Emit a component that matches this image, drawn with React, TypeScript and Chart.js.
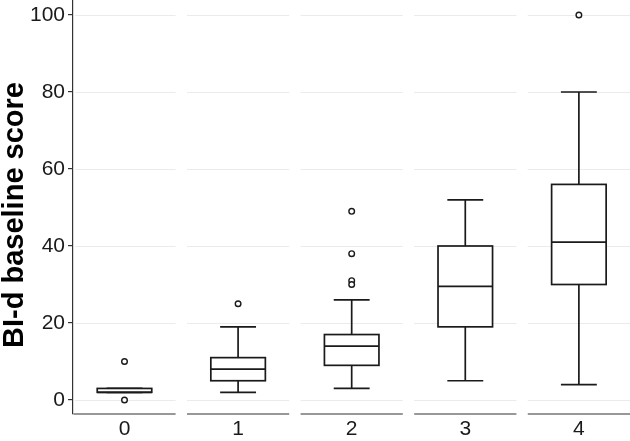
import React, { useEffect, useRef } from "react";
import { Chart, registerables } from "chart.js";

Chart.register(...registerables);

const categories = ["0", "1", "2", "3", "4"];
const whiskerLow = [2, 2, 3, 5, 4];
const q1 = [2, 5, 9, 19, 30];
const median = [2, 8, 14, 29.5, 41];
const q3 = [3, 11, 17, 40, 56];
const whiskerHigh = [3, 19, 26, 52, 80];
const outliers = [[10, 0], [25], [49, 38, 31, 30], [], [100]];
const yTicks = [0, 20, 40, 60, 80, 100];
const yTitle = "BI-d baseline score";

const LINE = "#1a1a1a";

const boxPlugin = {
  id: "boxPlugin",
  beforeDatasetsDraw(chart: any) {
    const { ctx, scales, chartArea } = chart;
    const x = scales.x;
    const y = scales.y;
    const step = x.getPixelForValue(1) - x.getPixelForValue(0);
    ctx.save();
    // segmented grid lines
    ctx.strokeStyle = "#ebebeb";
    ctx.lineWidth = 1;
    categories.forEach((_, i) => {
      const cx = x.getPixelForValue(i);
      yTicks.forEach((t) => {
        const py = Math.round(y.getPixelForValue(t)) + 0.5;
        ctx.beginPath();
        ctx.moveTo(Math.max(cx - step * 0.45, chartArea.left + 2), py);
        ctx.lineTo(cx + step * 0.45, py);
        ctx.stroke();
      });
    });
    // segmented x axis lines
    ctx.strokeStyle = "#333333";
    ctx.lineWidth = 1.2;
    categories.forEach((_, i) => {
      const cx = x.getPixelForValue(i);
      const py = chartArea.bottom;
      ctx.beginPath();
      ctx.moveTo(Math.max(cx - step * 0.45, chartArea.left), py);
      ctx.lineTo(cx + step * 0.45, py);
      ctx.stroke();
    });
    // boxes
    ctx.strokeStyle = LINE;
    ctx.lineWidth = 1.7;
    categories.forEach((_, i) => {
      const cx = x.getPixelForValue(i);
      const bw = step * 0.24;
      const cw = step * 0.158;
      const pLo = y.getPixelForValue(whiskerLow[i]);
      const pHi = y.getPixelForValue(whiskerHigh[i]);
      const p1 = y.getPixelForValue(q1[i]);
      const p3 = y.getPixelForValue(q3[i]);
      const pm = y.getPixelForValue(median[i]);
      ctx.beginPath();
      ctx.moveTo(cx, p1);
      ctx.lineTo(cx, pLo);
      ctx.moveTo(cx - cw, pLo);
      ctx.lineTo(cx + cw, pLo);
      ctx.moveTo(cx, p3);
      ctx.lineTo(cx, pHi);
      ctx.moveTo(cx - cw, pHi);
      ctx.lineTo(cx + cw, pHi);
      ctx.stroke();
      ctx.fillStyle = "#ffffff";
      ctx.fillRect(cx - bw, p3, bw * 2, p1 - p3);
      ctx.strokeRect(cx - bw, p3, bw * 2, p1 - p3);
      ctx.beginPath();
      ctx.moveTo(cx - bw, pm);
      ctx.lineTo(cx + bw, pm);
      ctx.stroke();
    });
    ctx.restore();
  },
  afterDraw(chart: any) {
    const { ctx, chartArea } = chart;
    ctx.save();
    ctx.translate(14.5, (chartArea.top + chartArea.bottom) / 2 + 8);
    ctx.rotate(-Math.PI / 2);
    ctx.textAlign = "center";
    ctx.textBaseline = "middle";
    ctx.fillStyle = "#000000";
    ctx.font = "bold 29px 'Liberation Sans', Arial";
    ctx.fillText(yTitle, 0, 0);
    ctx.restore();
  },
};

export default function App() {
  const ref = useRef<HTMLCanvasElement | null>(null);
  useEffect(() => {
    if (!ref.current) return;
    const outlierPoints: { x: number; y: number }[] = [];
    outliers.forEach((arr, i) => arr.forEach((v) => outlierPoints.push({ x: i, y: v })));
    const chart = new Chart(ref.current, {
      type: "scatter",
      data: {
        datasets: [
          {
            data: outlierPoints,
            pointRadius: 2.8,
            pointBorderWidth: 1.4,
            pointBackgroundColor: "#ffffff",
            pointBorderColor: LINE,
            clip: false,
          },
        ],
      },
      options: {
        animation: false,
        responsive: false,
        layout: { padding: 0, autoPadding: false },
        plugins: { legend: { display: false }, tooltip: { enabled: false } },
        scales: {
          x: {
            type: "linear",
            min: -0.4533,
            max: 4.45,
            afterBuildTicks: (axis: any) => {
              axis.ticks = categories.map((_, i) => ({ value: i }));
            },
            afterFit: (axis: any) => {
              axis.height = 27;
              axis.paddingLeft = 0;
              axis.paddingRight = 0;
              axis.paddingTop = 0;
              axis.paddingBottom = 0;
            },
            grid: { display: false, drawTicks: false },
            border: { display: false },
            ticks: {
              padding: 3,
              color: LINE,
              font: { family: "'Liberation Sans', Arial", size: 21 },
              callback: (v: any) => categories[v as number] ?? "",
            },
          },
          y: {
            min: -3.64,
            max: 103.9,
            afterBuildTicks: (axis: any) => {
              axis.ticks = yTicks.map((v) => ({ value: v }));
            },
            afterFit: (axis: any) => {
              axis.width = 73;
              axis.paddingLeft = 0;
              axis.paddingRight = 0;
              axis.paddingTop = 0;
              axis.paddingBottom = 0;
            },
            grid: {
              drawOnChartArea: false,
              drawTicks: true,
              tickLength: 5,
              color: "#333333",
              lineWidth: 1.2,
            },
            border: { display: true, color: "#333333", width: 1.2 },
            ticks: {
              padding: 3,
              color: LINE,
              font: { family: "'Liberation Sans', Arial", size: 21 },
            },
            title: { display: false },
          },
        },
      },
      plugins: [boxPlugin],
    } as any);
    return () => chart.destroy();
  }, []);
  return (
    <div style={{ position: "absolute", left: 0, top: 0, width: 630, height: 441 }}>
      <canvas ref={ref} width={630} height={441} />
    </div>
  );
}
